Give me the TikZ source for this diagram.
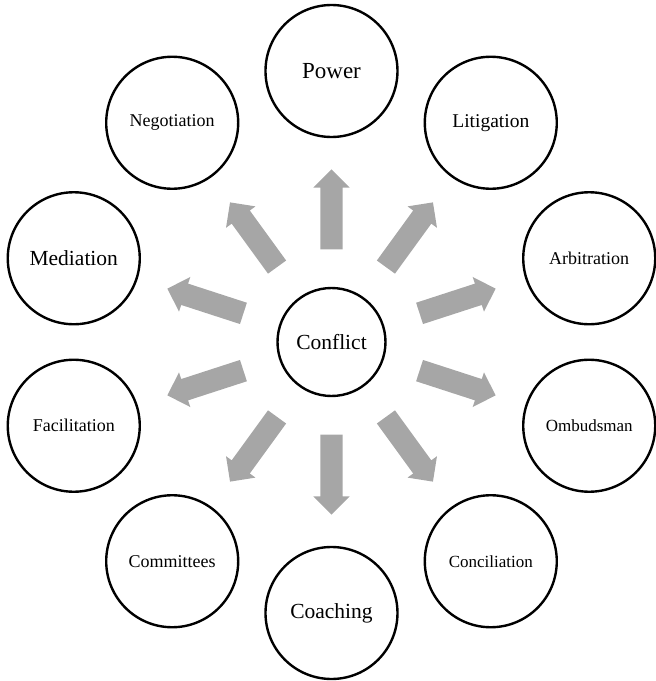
\documentclass[tikz,border=0pt]{standalone}
\usepackage{fontspec}
\setmainfont{Liberation Serif}
\usetikzlibrary{shapes.arrows}
\definecolor{arrowgray}{RGB}{166,166,166}
\begin{document}
\begin{tikzpicture}[
  x=1pt, y=1pt,
  ring/.style={circle, draw, line width=2.4pt, minimum size=132pt, inner sep=0pt, font=\fontsize{18}{20}\selectfont},
  hub/.style={ring, minimum size=108pt, font=\fontsize{21.5}{24}\selectfont},
  big/.style={font=\fontsize{21.5}{24}\selectfont},
  flow/.style={single arrow, fill=arrowgray, draw=none, inner xsep=0pt, inner ysep=11pt, minimum height=80pt, single arrow head extend=7pt, single arrow head indent=0pt}
]
\useasboundingbox (-331.5,-339) rectangle (324.5,342);

\node[hub] (conflict) at (0,0) {Conflict};

\node[ring, font=\fontsize{23}{25}\selectfont] (power) at (90:271pt) {Power};
\node[ring, font=\fontsize{19.5}{22}\selectfont] (litigation) at (54:271pt) {Litigation};
\node[ring] (arbitration) at (18:271pt) {Arbitration};
\node[ring, font=\fontsize{17}{19}\selectfont] (ombudsman) at (-18:271pt) {Ombudsman};
\node[ring, font=\fontsize{17}{19}\selectfont] (conciliation) at (-54:271pt) {Conciliation};
\node[ring, big] (coaching) at (-90:271pt) {Coaching};
\node[ring] (committees) at (-126:271pt) {Committees};
\node[ring] (facilitation) at (-162:271pt) {Facilitation};
\node[ring, big] (mediation) at (162:271pt) {Mediation};
\node[ring] (negotiation) at (126:271pt) {Negotiation};

% block arrows pointing out from the hub
\node[flow, rotate=90] (topower) at (90:127pt) {};
\node[flow, rotate=54] (tolitigation) at (54:127pt) {};
\node[flow, rotate=18] (toarbitration) at (18:127pt) {};
\node[flow, rotate=-18] (toombudsman) at (-18:127pt) {};
\node[flow, rotate=-54] (toconciliation) at (-54:127pt) {};
\node[flow, rotate=-90] (tocoaching) at (-90:127pt) {};
\node[flow, rotate=-126] (tocommittees) at (-126:127pt) {};
\node[flow, rotate=-162] (tofacilitation) at (-162:127pt) {};
\node[flow, rotate=162] (tomediation) at (162:127pt) {};
\node[flow, rotate=126] (tonegotiation) at (126:127pt) {};
\end{tikzpicture}
\end{document}
